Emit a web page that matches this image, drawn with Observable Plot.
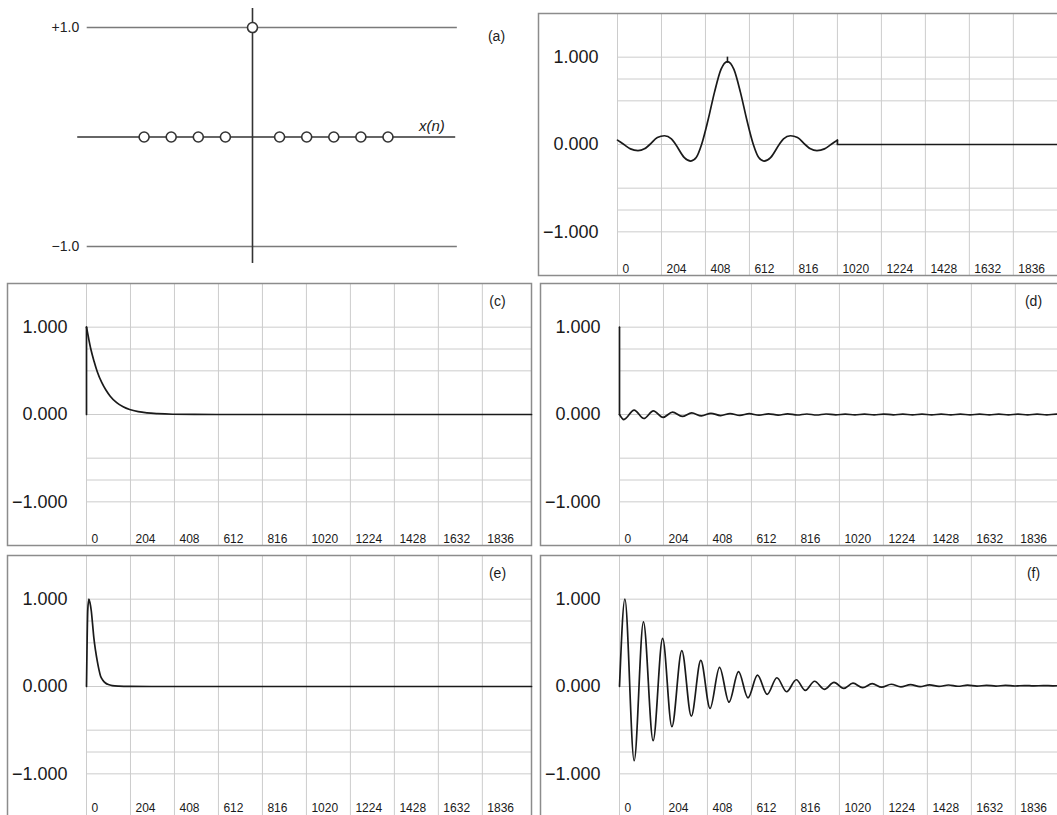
<!DOCTYPE html>
<html><head><meta charset="utf-8">
<script src="https://cdn.jsdelivr.net/npm/d3@7"></script>
<script src="https://cdn.jsdelivr.net/npm/@observablehq/plot@0.6"></script>
<style>
body{margin:0;background:#fff;}
#fig{position:relative;width:1057px;height:815px;overflow:hidden;background:#fff;}
.p{position:absolute;}
.p svg{max-width:none !important;display:block;}
</style></head><body><div id="fig"></div>
<script>
// ---------- shared axis data ----------
const xTicks = [0, 204, 408, 612, 816, 1020, 1224, 1428, 1632, 1836];
const yGrid = [1, 0.75, 0.5, 0, -0.5, -0.75, -1];
const yLabels = [1, 0, -1];
const yLabelText = ["1.000", "0.000", "\u22121.000"];

// ---------- panel (a): unit impulse stem diagram ----------
const stemN = [-4, -3, -2, -1, 0, 1, 2, 3, 4, 5];
const stemV = [0, 0, 0, 0, 1, 0, 0, 0, 0, 0];
const aLevels = [1, -1];
const aLevelText = ["+1.0", "\u22121.0"];

// ---------- panel (b): truncated sinc ----------
const bX = [0, 30, 60, 95, 125, 150, 185, 218, 250, 270, 310, 340, 365, 390, 420, 450, 480, 510,
            540, 570, 600, 630, 655, 680, 710, 750, 770, 802, 835, 870, 895, 925, 960, 990, 1020];
const bY = [0.05, 0.0, -0.05, -0.07, -0.05, 0.0, 0.08, 0.10, 0.065, 0.0, -0.15, -0.19, -0.15, 0.0, 0.28, 0.60, 0.86, 0.95,
            0.86, 0.60, 0.28, 0.0, -0.15, -0.19, -0.15, 0.0, 0.065, 0.10, 0.08, 0.0, -0.05, -0.07, -0.05, 0.0, 0.05];
const bJumpX = [1020, 1020, 2064];
const bJumpY = [0.05, 0, 0];
const bPeakX = [510];

// ---------- panel (c): exponential decay ----------
const cX = [0, 10, 20, 35, 50, 70, 90, 110, 140, 170, 200, 240, 280, 330, 400, 500, 700, 2064];
const cY = [1.0, 0.87, 0.75, 0.61, 0.49, 0.37, 0.28, 0.21, 0.135, 0.088, 0.057, 0.032, 0.018, 0.009, 0.003, 0.001, 0, 0];
const cJumpX = [0, 0];
const cJumpY = [0, 1];

// ---------- panel (d): impulse with small ripple ----------
const dX = [0, 20, 68, 113, 157, 202, 246, 291, 335, 380, 424, 469, 513, 558, 602, 647, 691, 736, 780, 825,
            869, 914, 958, 1003, 1047, 1092, 1136, 1181, 1225, 1270, 1314, 1359, 1403, 1448, 1492, 1537, 1581,
            1626, 1670, 1715, 1759, 1804, 1848, 1893, 1937, 1982, 2026, 2064];
const dY = [0, -0.058, 0.05, -0.046, 0.042, -0.033, 0.027, -0.022, 0.018, -0.016, 0.014, -0.012, 0.011, -0.01, 0.009, -0.008, 0.008, -0.007, 0.007, -0.006,
            0.006, -0.006, 0.006, -0.005, 0.005, -0.005, 0.005, -0.005, 0.005, -0.004, 0.004, -0.004, 0.004, -0.004, 0.004, -0.004, 0.004,
            -0.004, 0.004, -0.004, 0.004, -0.004, 0.004, -0.004, 0.004, -0.004, 0.004, 0];
const dJumpX = [0, 0];
const dJumpY = [1, 0];

// ---------- panel (e): short pulse ----------
const eX = [0, 3, 6, 11, 16, 22, 28, 34, 42, 50, 58, 65, 75, 88, 105, 120, 150, 200, 300, 2064];
const eY = [0, 0.55, 0.88, 1.0, 0.96, 0.87, 0.72, 0.56, 0.41, 0.29, 0.19, 0.12, 0.075, 0.04, 0.02, 0.01, 0.004, 0.001, 0, 0];

// ---------- panel (f): damped oscillation ----------
const fX = [0, 25, 68, 111, 156, 200, 243, 289, 333, 377, 420, 464, 508, 552, 596, 640, 685, 730, 775, 820,
            862, 905, 950, 995, 1040, 1083, 1128, 1172, 1216, 1260, 1305, 1350, 1394, 1438, 1482, 1526, 1570,
            1614, 1658, 1702, 1746, 1790, 1834, 1878, 1922, 1966, 2010, 2054, 2064];
const fY = [0, 1.0, -0.85, 0.74, -0.62, 0.55, -0.46, 0.41, -0.34, 0.30, -0.25, 0.22, -0.18, 0.17, -0.13, 0.13, -0.09, 0.10, -0.06, 0.077,
            -0.045, 0.06, -0.032, 0.048, -0.022, 0.038, -0.014, 0.032, -0.008, 0.026, -0.004, 0.022, -0.001, 0.019, 0.001, 0.017, 0.003,
            0.015, 0.004, 0.013, 0.005, 0.012, 0.006, 0.011, 0.007, 0.010, 0.008, 0.009, 0.009];

const fontFamily = "'Liberation Sans', Arial, Helvetica, sans-serif";
const ink = "#1a1a1a";
const gridColor = "#cccccc";
const frameColor = "#8c8c8c";

const zip = (xs, ys) => xs.map((x, i) => ({x, y: ys[i]}));

function wavePanel(cfg) {
  const marks = [
    Plot.ruleY(yGrid, {stroke: gridColor, strokeWidth: 1}),
    Plot.ruleX(xTicks, {stroke: gridColor, strokeWidth: 1}),
    Plot.frame({stroke: frameColor, strokeWidth: 1.5, insetLeft: -79}),
    Plot.text(xTicks, {x: d => d, frameAnchor: "bottom", text: d => String(d), textAnchor: "start",
      lineAnchor: "bottom", dx: 5, dy: cfg.tickDy ?? -3, fontSize: 12, fill: "#1a1a1a"}),
    Plot.text(yLabels, {y: d => d, frameAnchor: "left", text: (d, i) => yLabelText[i], textAnchor: "end",
      dx: -19, fontSize: 18, fill: "#1a1a1a"})
  ];
  if (cfg.jx) marks.push(Plot.line(zip(cfg.jx, cfg.jy), {x: "x", y: "y", stroke: ink, strokeWidth: 1.7}));
  marks.push(Plot.line(zip(cfg.x, cfg.y), {x: "x", y: "y", curve: "monotone-x", stroke: ink, strokeWidth: 1.7}));
  if (cfg.extra) marks.push(...cfg.extra);
  if (cfg.label) marks.push(Plot.text([cfg.label], {text: d => d, frameAnchor: "top-right", dx: cfg.labelDx,
      dy: 18, textAnchor: "middle", lineAnchor: "middle", fontSize: 14, fill: "#1a1a1a"}));
  return Plot.plot({
    width: 526, height: 264,
    marginLeft: 80, marginRight: 1, marginTop: 1, marginBottom: 1,
    x: {domain: [0, 2064], axis: null},
    y: {domain: [-1.5, 1.5], axis: null},
    style: {fontFamily, background: "transparent", overflow: "visible", maxWidth: "none"},
    marks
  });
}

function stemPanel() {
  const stems = stemN.map((n, i) => ({n, v: stemV[i]}));
  return Plot.plot({
    width: 530, height: 275,
    marginLeft: 0, marginRight: 0, marginTop: 0, marginBottom: 0,
    x: {domain: [-9.3, 10.26], axis: null},
    y: {domain: [-1.265, 1.247], axis: null},
    style: {fontFamily, background: "transparent", overflow: "visible", maxWidth: "none"},
    marks: [
      Plot.ruleY(aLevels, {x1: -6.1, x2: 7.56, stroke: "#7a7a7a", strokeWidth: 1.5}),
      Plot.ruleY([0], {x1: -6.45, x2: 7.5, stroke: "#333", strokeWidth: 1.6}),
      Plot.ruleX([0], {y1: -1.155, y2: 1.174, stroke: "#333", strokeWidth: 1.6}),
      Plot.dot(stems, {x: "n", y: "v", r: 5, fill: "white", stroke: "#333", strokeWidth: 1.6}),
      Plot.text(aLevels, {y: d => d, x: -6.1, text: (d, i) => aLevelText[i], textAnchor: "end", dx: -8,
        fontSize: 14, fill: "#222"}),
      Plot.text(["x(n)"], {x: 6.62, y: 0.10, text: d => d, fontStyle: "italic", fontSize: 15, fill: "#222"}),
      Plot.text(["(a)"], {text: d => d, frameAnchor: "top-right", dx: -34, dy: 36, textAnchor: "middle",
        lineAnchor: "middle", fontSize: 14, fill: "#222"})
    ]
  });
}

const fig = document.getElementById("fig");
function place(node, left, top, w, h) {
  const d = document.createElement("div");
  d.className = "p";
  d.style.left = left + "px";
  d.style.top = top + "px";
  d.style.width = w + "px";
  d.style.height = h + "px";
  d.appendChild(node);
  fig.appendChild(d);
}

place(stemPanel(), 0, 0, 530, 275);
place(wavePanel({x: bX, y: bY, jx: bJumpX, jy: bJumpY,
  extra: [Plot.ruleX(bPeakX, {y1: 0.93, y2: 1.0, stroke: ink, strokeWidth: 1.6})]}), 537, 12, 526, 264);
place(wavePanel({x: cX, y: cY, jx: cJumpX, jy: cJumpY, label: "(c)", labelDx: -34}), 6, 282, 526, 264);
place(wavePanel({x: dX, y: dY, jx: dJumpX, jy: dJumpY, label: "(d)", labelDx: -31}), 539, 282, 526, 264);
place(wavePanel({x: eX, y: eY, label: "(e)", labelDx: -34, tickDy: -6}), 6, 554, 526, 264);
place(wavePanel({x: fX, y: fY, label: "(f)", labelDx: -31, tickDy: -6}), 539, 554, 526, 264);
</script></body></html>
